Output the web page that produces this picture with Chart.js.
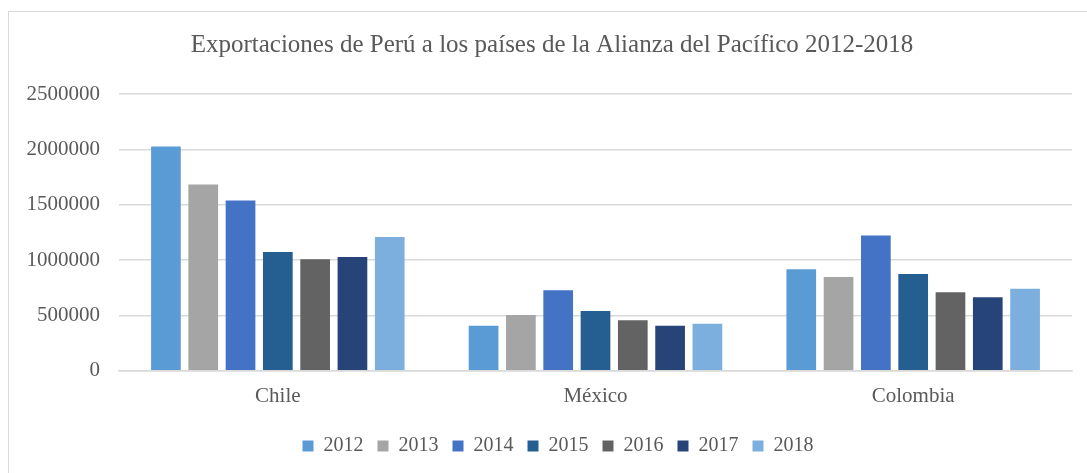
<!DOCTYPE html>
<html>
<head>
<meta charset="utf-8">
<script src="https://cdn.jsdelivr.net/npm/chart.js@4"></script>
<style>
html,body{margin:0;padding:0;background:#fff;}
#wrap{position:relative;width:1087px;height:473px;overflow:hidden;}
#frame{position:absolute;left:8px;top:11px;width:1200px;height:600px;border:1.5px solid #d9d9d9;box-sizing:border-box;pointer-events:none;}
canvas{position:absolute;left:0;top:0;}
</style>
</head>
<body>
<div id="wrap">
<div id="frame"></div>
<canvas id="c" width="1087" height="473"></canvas>
</div>
<script>
const titleText = "Exportaciones de Perú a los países de la Alianza del Pacífico 2012-2018";
const categories = ["Chile", "México", "Colombia"];
const years = ["2012", "2013", "2014", "2015", "2016", "2017", "2018"];
const colors = ["#5B9BD5", "#A5A5A5", "#4472C4", "#255E91", "#636363", "#264478", "#7CAFDD"];
const v2012 = [2025000, 408000, 917000];
const v2013 = [1682000, 504000, 848000];
const v2014 = [1538000, 728000, 1223000];
const v2015 = [1073000, 540000, 875000];
const v2016 = [1007000, 456000, 710000];
const v2017 = [1028000, 408000, 665000];
const v2018 = [1208000, 426000, 740000];
const series = [v2012, v2013, v2014, v2015, v2016, v2017, v2018];
const yTicks = [0, 500000, 1000000, 1500000, 2000000, 2500000];

const FONT = "'Liberation Serif', 'Times New Roman', serif";
const TXT = "#595959";

const shiftBoxes = {
  id: 'shiftBoxes',
  afterLayout(chart) {
    const t = chart.titleBlock;
    if (t) { t.left += 16; t.right += 16; }
    const l = chart.legend;
    if (l) { l.left += 22; l.right += 22; }
  }
};

new Chart(document.getElementById('c'), {
  type: 'bar',
  data: {
    labels: categories,
    datasets: years.map((y, i) => ({
      label: y,
      data: series[i],
      backgroundColor: colors[i],
      borderWidth: 0,
      categoryPercentage: 0.822,
      barPercentage: 0.796
    }))
  },
  plugins: [shiftBoxes],
  options: {
    responsive: false,
    animation: false,
    layout: { padding: { top: 18, right: 15, bottom: 7, left: 0 } },
    plugins: {
      title: {
        display: true,
        text: titleText,
        color: TXT,
        font: { family: FONT, size: 25, weight: 'normal' },
        padding: { top: 12, bottom: 34 }
      },
      legend: {
        position: 'bottom',
        labels: {
          color: TXT,
          font: { family: FONT, size: 20 },
          boxWidth: 11,
          boxHeight: 11,
          padding: 14
        }
      },
      tooltip: { enabled: false }
    },
    scales: {
      x: {
        grid: { display: false, drawTicks: false },
        border: { display: true, color: '#d9d9d9', width: 1.5 },
        ticks: { color: TXT, font: { family: FONT, size: 21 }, padding: 13 }
      },
      y: {
        min: 0,
        max: 2500000,
        afterFit: s => { s.width = 119; },
        afterBuildTicks: s => { s.ticks = yTicks.map(v => ({ value: v })); },
        grid: { color: '#d9d9d9', lineWidth: 1.5, drawTicks: false },
        border: { display: false },
        ticks: { color: TXT, font: { family: FONT, size: 21 }, padding: 19, callback: v => String(v) }
      }
    }
  }
});
</script>
</body>
</html>
